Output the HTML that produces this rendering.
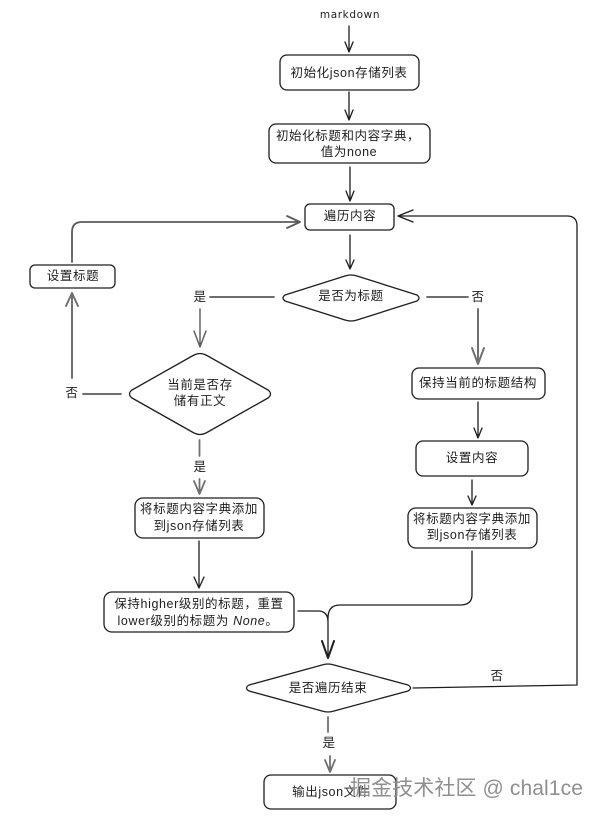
<!DOCTYPE html>
<html><head><meta charset="utf-8">
<style>
html,body{margin:0;padding:0;background:#fff;width:603px;height:819px;overflow:hidden}
svg{display:block;filter:blur(.3px)}
text{font-family:"Liberation Sans","WenQuanYi Zen Hei","Noto Sans CJK SC",sans-serif;font-size:12.5px;fill:#1e1e1e;text-anchor:middle;letter-spacing:.6px}
.s{fill:none;stroke:#1e1e1e;stroke-width:1.3;stroke-linecap:round;stroke-linejoin:round}
.b{fill:#fff;stroke:#1e1e1e;stroke-width:1.3;stroke-linejoin:round}
.g{stroke:#5a5a5a;stroke-width:1.8}
.wm{font-size:21px;fill:#8f8f8f;text-anchor:start;letter-spacing:.1px;font-family:"Liberation Sans","Noto Sans CJK SC",sans-serif}
</style></head><body>
<svg width="603" height="819" viewBox="0 0 603 819" xmlns="http://www.w3.org/2000/svg">
<!-- connectors -->
<path class="s" d="M349 26V52M345 42L349 52L353 42"/>
<path class="s" d="M349 92V120M345 110L349 120L353 110"/>
<path class="s" d="M350 167V201M346 191L350 201L354 191"/>
<path class="s" d="M350 235V269M346 260L350 269L354 260"/>
<path class="s g" d="M72 262V232Q72 222 82 222H299M287 216L300 222L287 228"/>
<path class="s g" d="M210 297H274M427 297H468"/>
<path class="s g" d="M200 309V347M194 331L200 347L206 331" style="stroke-width:1.4"/>
<path class="s g" d="M83 394H121"/>
<path class="s g" d="M72 378V293M66 306L72 293L78 306" style="stroke:#707070;stroke-width:2"/>
<path class="s g" d="M199.500 440V456M199.500 479V494M194 481L199.500 494L205 481" style="stroke:#707070"/>
<path class="s" d="M199 541V588M194 577L199 588L204 577"/>
<path class="s g" d="M478 309V364M472 348L478 364L484 348" style="stroke:#707070;stroke-width:2"/>
<path class="s" d="M478 402V438M474 428L478 438L482 428"/>
<path class="s" d="M472 480V505M468 496L472 505L476 496"/>
<path class="s" d="M472 551V595Q472 605 460 605H340Q328 605 328 618V658M298 611H318Q328 611 328 622"/>
<path class="s" d="M322 641L328 658L334 641" style="stroke-width:2"/>
<path class="s" d="M413 688L577 685V226Q577 216 567 216H398M413 210L398 216L413 222"/>
<path class="s g" d="M328 717V732M330 756V772M325 760L330 772L335 760" style="stroke:#707070"/>
<!-- nodes -->
<rect class="b" x="280" y="55" width="139" height="35" rx="7"/>
<rect class="b" x="269" y="124" width="161" height="39" rx="7"/>
<rect class="b" x="305" y="204" width="89" height="26" rx="5"/>
<rect class="b" x="30" y="265" width="85" height="23" rx="5"/>
<rect class="b" x="135" y="498" width="129" height="40" rx="8"/>
<rect class="b" x="104" y="592" width="190" height="40" rx="8"/>
<rect class="b" x="412" y="368" width="133" height="31" rx="7"/>
<rect class="b" x="416" y="441" width="112" height="35" rx="7"/>
<rect class="b" x="408" y="508" width="129" height="40" rx="8"/>
<rect class="b" x="264" y="775" width="132" height="34" rx="7"/>
<path class="b" d="M345 276Q351 274 357 276L417 295Q421 298 417 301L357 320Q351 322 345 320L285 301Q281 298 285 295Z"/>
<path class="b" d="M194 355Q200 352 206 355L268 390Q273 394 268 398L206 433Q200 436 194 433L132 398Q127 394 132 390Z"/>
<path class="b" d="M322 665Q328 663 334 665L408 685Q413 688 408 691L334 711Q328 713 322 711L249 691Q244 688 249 685Z"/>
<!-- labels -->
<text x="350" y="18" style="font-family:'DejaVu Sans',sans-serif;font-size:10.500px">markdown</text>
<text x="349" y="77">初始化json存储列表</text>
<text x="348" y="140">初始化标题和内容字典，</text>
<text x="349" y="156">值为none</text>
<text x="350" y="220">遍历内容</text>
<text x="73" y="280">设置标题</text>
<text x="200" y="301">是</text>
<text x="351" y="300">是否为标题</text>
<text x="478" y="301">否</text>
<text x="200" y="389">当前是否存</text>
<text x="200" y="405">储有正文</text>
<text x="72" y="397">否</text>
<text x="200" y="471">是</text>
<text x="199" y="513">将标题内容字典添加</text>
<text x="199" y="530">到json存储列表</text>
<text x="199" y="608">保持higher级别的标题，重置</text>
<text x="198" y="625">lower级别的标题为 <tspan font-style="italic">None</tspan>。</text>
<text x="478" y="387">保持当前的标题结构</text>
<text x="472" y="462">设置内容</text>
<text x="472" y="523">将标题内容字典添加</text>
<text x="472" y="539">到json存储列表</text>
<text x="328" y="692">是否遍历结束</text>
<text x="497" y="680">否</text>
<text x="329" y="747">是</text>
<text x="331" y="796">输出json文件</text>
<text class="wm" x="350" y="795">掘金技术社区 @ chal1ce</text>
</svg>
</body></html>
